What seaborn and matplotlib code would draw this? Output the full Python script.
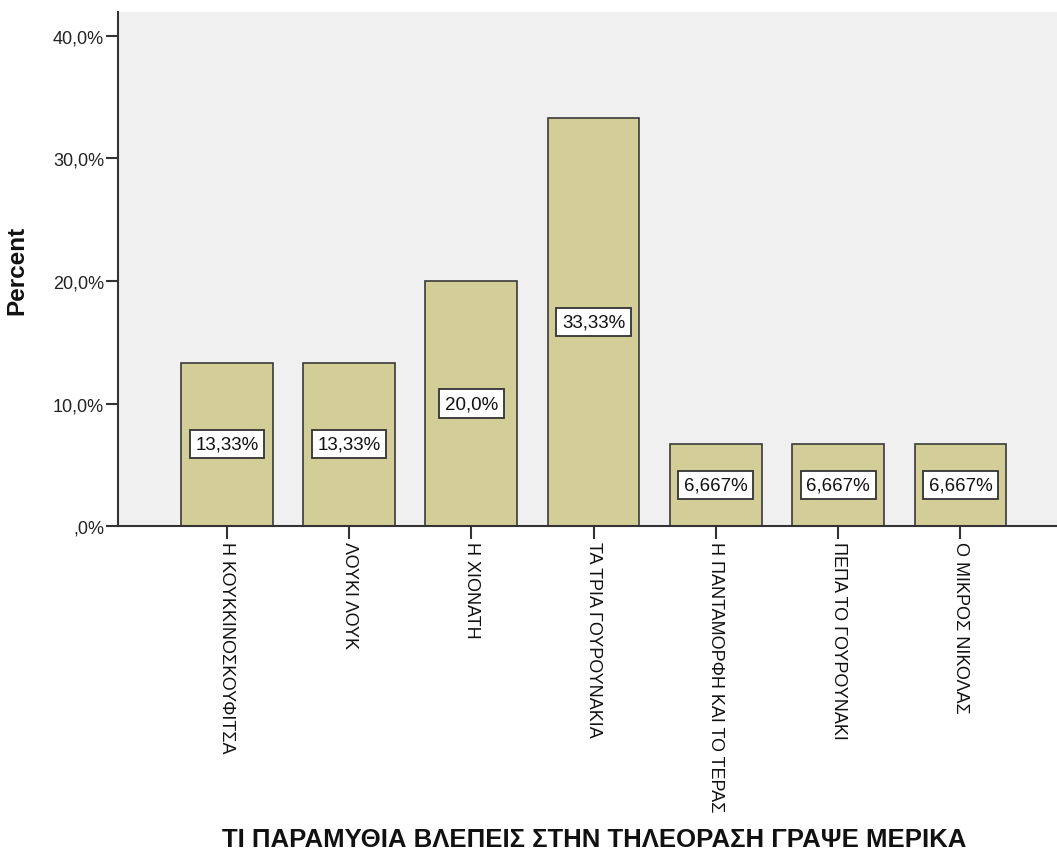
import matplotlib
matplotlib.use("Agg")
import matplotlib.pyplot as plt
import seaborn as sns
import pandas as pd
from matplotlib.ticker import FuncFormatter

# Fairy tales watched on TV (percent of answers)
categories = [
    "Η ΚΟΥΚΚΙΝΟΣΚΟΥΦΙΤΣΑ",
    "ΛΟΥΚΙ ΛΟΥΚ",
    "Η ΧΙΟΝΑΤΗ",
    "ΤΑ ΤΡΙΑ ΓΟΥΡΟΥΝΑΚΙΑ",
    "Η ΠΑΝΤΑΜΟΡΦΗ ΚΑΙ ΤΟ ΤΕΡΑΣ",
    "ΠΕΠΑ ΤΟ ΓΟΥΡΟΥΝΑΚΙ",
    "Ο ΜΙΚΡΟΣ ΝΙΚΟΛΑΣ",
]
percents = [13.33, 13.33, 20.0, 33.33, 6.667, 6.667, 6.667]
value_labels = ["13,33%", "13,33%", "20,0%", "33,33%", "6,667%", "6,667%", "6,667%"]
y_ticks = [0, 10, 20, 30, 40]

sns.set_theme(style="white")
plt.rcParams["font.family"] = ["Liberation Sans", "DejaVu Sans"]

df = pd.DataFrame({"category": categories, "percent": percents})

fig = plt.figure(figsize=(10.57, 8.54), dpi=100)
ax = fig.add_axes([0.1116, 0.3829, 0.8884, 0.6019])
ax.set_facecolor("#F0F0F0")

sns.barplot(data=df, x="category", y="percent", order=categories,
            color="#D3CE97", saturation=1, width=0.75,
            edgecolor="#3A3A3A", linewidth=1.2, ax=ax)

# value boxes in the middle of each bar
for i, (v, lab) in enumerate(zip(percents, value_labels)):
    ax.text(i, v / 2, lab, ha="center", va="center", fontsize=13.5, color="#111111",
            bbox=dict(boxstyle="square,pad=0.3", facecolor="white",
                      edgecolor="#333333", linewidth=1.3))

ax.set_ylim(0, 41.96)
ax.set_xlim(-0.89, 6.79)
ax.set_yticks(y_ticks)
ax.yaxis.set_major_formatter(FuncFormatter(
    lambda v, p: (",0%" if v == 0 else f"{v:.1f}%".replace(".", ","))))

ax.set_xticks(range(len(categories)))
ax.set_xticklabels(categories, rotation=270, ha="center", va="top",
                   fontsize=13, color="#111111")
ax.tick_params(axis="y", labelsize=13, labelcolor="#222222", length=9,
               width=1.5, color="#333333", left=True, pad=1)
ax.tick_params(axis="x", length=9, width=1.5, color="#333333", bottom=True, pad=2)

for side in ["top", "right"]:
    ax.spines[side].set_visible(False)
for side in ["left", "bottom"]:
    ax.spines[side].set_color("#333333")
    ax.spines[side].set_linewidth(1.5)

ax.set_ylabel("Percent", fontsize=17.5, fontweight="bold", labelpad=18, color="#111111")
ax.set_xlabel("")
fig.text(0.562, 1 - 840 / 854, "ΤΙ ΠΑΡΑΜΥΘΙΑ ΒΛΕΠΕΙΣ ΣΤΗΝ ΤΗΛΕΟΡΑΣΗ ΓΡΑΨΕ ΜΕΡΙΚΑ",
         ha="center", va="center", fontsize=18.5, fontweight="bold", color="#111111")

fig.savefig("out.png", dpi=100, facecolor="white")
